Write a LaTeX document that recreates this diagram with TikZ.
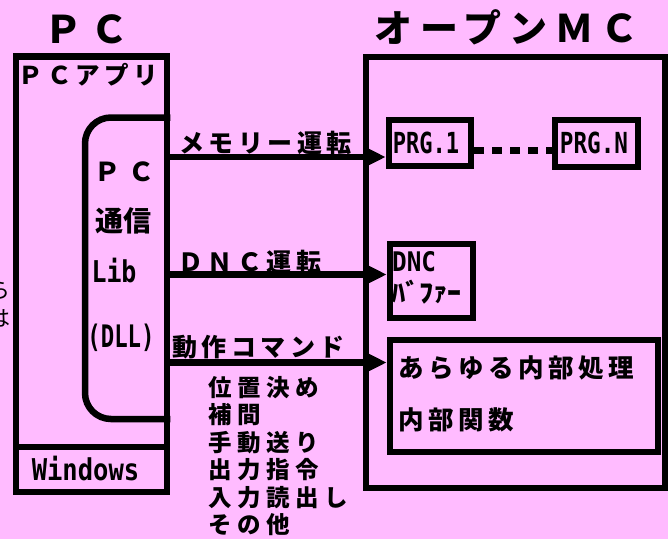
\documentclass[tikz,border=0pt]{standalone}
\usepackage{fontspec}
\usetikzlibrary{arrows.meta}
\newfontfamily\jp{Noto Sans CJK JP}
\newfontfamily\mono{DejaVu Sans Mono}
\definecolor{bgpink}{RGB}{255,187,255}
\newcommand\hwtext[3]{\scalebox{#1}[1]{\mono\bfseries\fontsize{#2}{#2}\selectfont #3}}
\tikzset{
  frame/.style={draw=black, line width=6.5pt, inner sep=0pt},
  wire/.style={draw=black, line width=6.5pt},
  arr/.style={draw=black, line width=6.5pt, -{Triangle[length=22pt,width=20pt]}},
  jlab/.style={inner sep=0pt, anchor=west, font={\jp\bfseries\fontsize{25}{28}\selectfont\addfontfeature{LetterSpace=18}}},
  titlefont/.style={inner sep=0pt, font={\jp\bfseries\fontsize{38}{40}\selectfont\addfontfeature{LetterSpace=20}}},
  plain/.style={inner sep=0pt},
}
\begin{document}
\begin{tikzpicture}[x=1pt,y=-1pt]
\useasboundingbox (0,0) rectangle (668,539);
\fill[bgpink] (0,0) rectangle (668,539);
\clip (0,0) rectangle (668,539);

% titles
\node[titlefont] (pctitle) at (86.6,29) {ＰＣ};
\node[titlefont] (mctitle) at (506.8,27) {オープンＭＣ};

% PC side
\node[frame, minimum width=151pt, minimum height=435.5pt] (pc) at (91.5,274.25) {};
\node[frame, minimum width=151pt, minimum height=45pt] (win) at (91.5,469.5) {};
\node[plain] (wintext) at (85.5,469) {\hwtext{0.85}{30}{Windows}};
\node[plain, anchor=west, font={\jp\bfseries\fontsize{24.5}{26}\selectfont\addfontfeature{LetterSpace=18}}] (pcapp) at (18,75) {ＰＣアプリ};

% Lib box
\draw[wire, rounded corners=26pt] (pc.east |- 0,117.5) -- (85,117.5) -- (85,419) -- (pc.east |- 0,419);
\node[plain, font={\jp\bfseries\fontsize{26}{28}\selectfont\addfontfeature{LetterSpace=30}}] (libpc) at (124.8,172) {ＰＣ};
\node[plain, font={\jp\bfseries\fontsize{28}{30}\selectfont}] (libcomm) at (123.5,221) {通信};
\node[plain] (liblib) at (114,271) {\hwtext{0.83}{30}{Lib}};
\node[plain] (libdll) at (121,338) {\hwtext{0.72}{31}{(DLL)}};

% MC side
\node[frame, minimum width=299pt, minimum height=431pt] (mc) at (515.5,272.5) {};
\node[frame, minimum width=82pt, minimum height=46pt] (prg1) at (430,143) {};
\node[plain] (prg1t) at (426,142.5) {\hwtext{0.76}{29}{PRG.1}};
\node[frame, minimum width=83pt, minimum height=47pt] (prgn) at (596.5,143.5) {};
\node[plain] (prgnt) at (594,143) {\hwtext{0.78}{29}{PRG.N}};
\draw[line width=7pt, dash pattern=on 10pt off 8pt] (prg1.east |- 0,150.5) -- (prgn.west |- 0,150.5);

\node[frame, minimum width=83pt, minimum height=74pt] (dnc) at (431.5,281) {};
\node[plain, anchor=west] (dnct1) at (392,262) {\hwtext{0.9}{27}{DNC}};
\node[plain, anchor=west] (dnct2) at (391,292) {\scalebox{1.08}[1]{\jp\bfseries\fontsize{26}{26}\selectfont ﾊﾞﾌｧｰ}};

\node[frame, minimum width=268pt, minimum height=112pt] (big) at (524,396) {};
\node[jlab, font={\jp\bfseries\fontsize{25.5}{28}\selectfont\addfontfeature{LetterSpace=18}}] (bigt1) at (398,368) {あらゆる内部処理};
\node[jlab, font={\jp\bfseries\fontsize{25.5}{28}\selectfont\addfontfeature{LetterSpace=18}}] (bigt2) at (398,420) {内部関数};

% arrows
\draw[arr] (pc.east |- 0,157) -- (prg1.west |- 0,157);
\draw[arr] (pc.east |- 0,274.5) -- (dnc.west |- 0,274.5);
\draw[arr] (pc.east |- 0,362.5) -- (big.west |- 0,362.5);

\node[jlab] (lab1) at (179,143) {メモリー運転};
\node[jlab] (lab2) at (178,262) {ＤＮＣ運転};
\node[jlab] (lab3) at (172,347) {動作コマンド};

\node[plain, anchor=north west, align=left, font={\jp\bfseries\fontsize{23.5}{27.5}\selectfont\addfontfeature{LetterSpace=24}}] (cmdlist) at (208,376)
  {位置決め\\補間\\手動送り\\出力指令\\入力読出し\\その他};

% clipped fragments at the left edge
\node[plain, font={\jp\fontsize{22}{22}\selectfont}] (frag1) at (-1,291) {ら};
\node[plain, font={\jp\fontsize{22}{22}\selectfont}] (frag2) at (-1,318) {は};
\end{tikzpicture}
\end{document}
